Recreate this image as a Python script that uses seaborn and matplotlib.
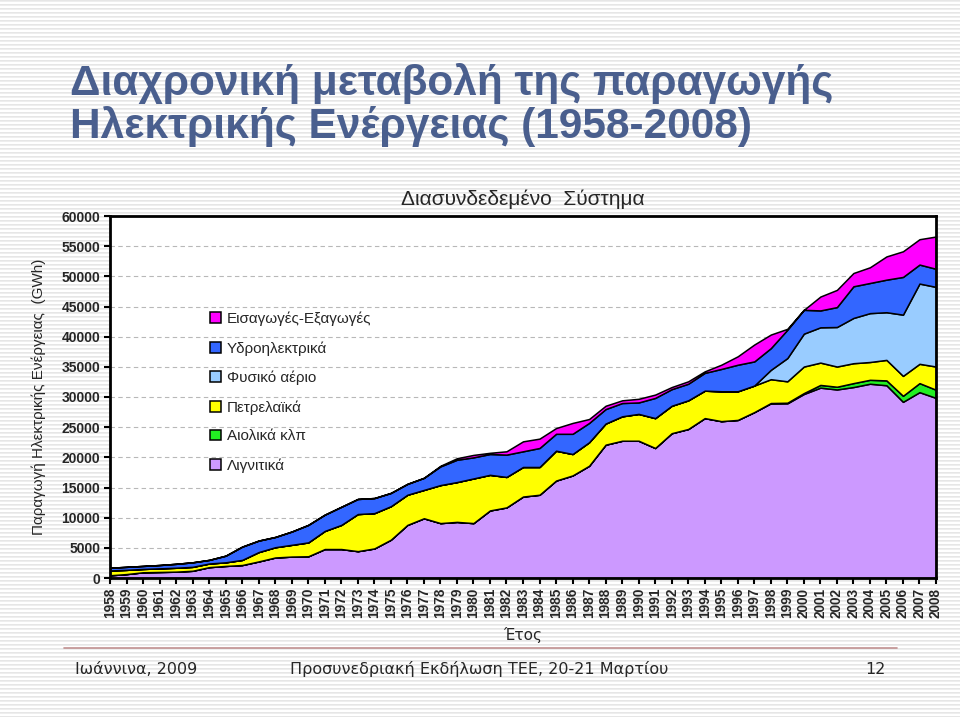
import numpy as np
import pandas as pd
import matplotlib
matplotlib.use("Agg")
import matplotlib.pyplot as plt
import seaborn as sns

# Παραγωγή ανά πηγή (GWh), διασυνδεδεμένο σύστημα
years = list(range(1958, 2009))

lignite = [450, 650, 950, 1000, 1050, 1200, 1800, 2000, 2150, 2750,
           3400, 3550, 3600, 4800, 4800, 4450, 4900, 6350, 8800, 9900,
           9100, 9300, 9100, 11200, 11700, 13500, 13800, 16150, 17000, 18600,
           22100, 22750, 22750, 21550, 24000, 24700, 26500, 26000, 26200, 27500,
           28950, 28950, 30500, 31550, 31250, 31650, 32200, 31950, 29200, 30800,
           29850]
wind = [0] * 40 + [50, 100, 150, 450, 450, 650, 650, 800, 1000, 1500, 1350]
oil = [800, 700, 550, 600, 650, 650, 600, 600, 850, 1550,
       1700, 1950, 2300, 3000, 4000, 6150, 5850, 5550, 5000, 4700,
       6300, 6600, 7400, 5900, 5050, 4900, 4600, 4950, 3550, 3900,
       3500, 4050, 4450, 4950, 4550, 4750, 4550, 4950, 4750, 4400,
       3950, 3550, 4400, 3700, 3350, 3300, 2950, 3400, 3300, 3200,
       3850]
gas = [0] * 40 + [1550, 3850, 5450, 5850, 6550, 7500, 8100, 7900, 10150, 13300, 13200]
hydro = [450, 500, 500, 550, 650, 750, 600, 1100, 2200, 1900,
         1700, 2200, 2900, 2700, 3000, 2500, 2500, 2200, 1800, 2000,
         3100, 3700, 3500, 3450, 3700, 2600, 3150, 2800, 3350, 3200,
         2400, 2200, 1900, 3350, 2750, 2750, 2950, 3700, 4400, 4000,
         3600, 4700, 3950, 2800, 3300, 5250, 5000, 5400, 6250, 3150,
         3000]
imports = [0] * 20 + [100, 250, 400, 200, 550, 1650, 1550, 950, 1800, 650,
                      550, 450, 600, 550, 350, 400, 250, 700, 1400, 2800,
                      2250, 150, 0, 2300, 2850, 2200, 2600, 3850, 4250, 4200,
                      5350]

names = ["Λιγνιτικά", "Αιολικά κλπ", "Πετρελαϊκά", "Φυσικό αέριο",
         "Υδροηλεκτρικά", "Εισαγωγές-Εξαγωγές"]
colors = ["#CC99FF", "#22EE22", "#FFFF00", "#99CCFF", "#3366FF", "#FF00FF"]

df = pd.DataFrame({"year": years, names[0]: lignite, names[1]: wind,
                   names[2]: oil, names[3]: gas, names[4]: hydro,
                   names[5]: imports})

sns.set_theme(style="white")
plt.rcParams["font.family"] = ["Liberation Sans", "DejaVu Sans"]

fig = plt.figure(figsize=(9.6, 7.17), dpi=100)

# ριγέ φόντο διαφάνειας
bg = fig.add_axes([0, 0, 1, 1], zorder=-5)
rows = np.ones((717, 1))
rows[::4] = 0.9
rows[1::4] = 0.93
bg.imshow(rows, cmap="gray", vmin=0, vmax=1, aspect="auto",
          interpolation="nearest", extent=[0, 1, 0, 1])
bg.axis("off")

ax = fig.add_axes([110 / 960, 1 - 578 / 717, 826 / 960, 362 / 717])
ax.set_facecolor("white")
ax.stackplot(df["year"], [df[n] for n in names], colors=colors,
             labels=names, edgecolor="black", linewidth=1.1, zorder=2)

ax.set_xlim(1958, 2008)
ax.set_ylim(0, 60000)
ax.set_yticks(range(0, 60001, 5000))
ax.set_yticklabels([str(v) for v in range(0, 60001, 5000)],
                   fontsize=10, fontweight="bold")
ax.set_xticks(years)
ax.set_xticklabels([str(y) for y in years], rotation=90, fontsize=9.8,
                   fontweight="bold")
ax.tick_params(axis="both", direction="out", length=4, width=1.5,
               color="black", pad=3, bottom=True, left=True)
ax.yaxis.grid(True, linestyle=(0, (4, 3)), color="#b8b8b8", linewidth=0.8)
ax.set_axisbelow(True)
for s in ax.spines.values():
    s.set_color("black")
    s.set_linewidth(2)

ax.set_title("Διασυνδεδεμένο  Σύστημα", fontsize=15, pad=8)
ax.set_ylabel("Παραγωγή Ηλεκτρικής Ενέργειας  (GWh)", fontsize=11,
              labelpad=11)
ax.set_xlabel("Έτος", fontsize=11, family="DejaVu Sans", labelpad=6)

h, l = ax.get_legend_handles_labels()
leg = ax.legend(h[::-1], l[::-1], loc="upper left",
                bbox_to_anchor=(0.112, 0.757), frameon=False,
                fontsize=11, handlelength=0.7, handleheight=0.7,
                handletextpad=0.4, labelspacing=0.98, borderpad=0)

fig.text(0.073, 0.912, "Διαχρονική μεταβολή της παραγωγής\n"
         "Ηλεκτρικής Ενέργειας (1958-2008)", fontsize=30.5, color="#4A5F8E",
         fontweight="bold", va="top", ha="left", linespacing=1.05)

fig.add_artist(plt.Line2D([64 / 960, 897 / 960], [1 - 648 / 717] * 2,
                          color="#C09090", linewidth=1.2))
fig.text(75 / 960, 1 - 669 / 717, "Ιωάννινα, 2009", fontsize=11.5,
         family="DejaVu Sans", va="center")
fig.text(290 / 960, 1 - 669 / 717, "Προσυνεδριακή Εκδήλωση ΤΕΕ, 20-21 Μαρτίου",
         fontsize=11.5, family="DejaVu Sans", va="center")
fig.text(886 / 960, 1 - 669 / 717, "12", fontsize=11.5,
         family="DejaVu Sans", va="center", ha="right")

fig.savefig("out.png", dpi=100)
